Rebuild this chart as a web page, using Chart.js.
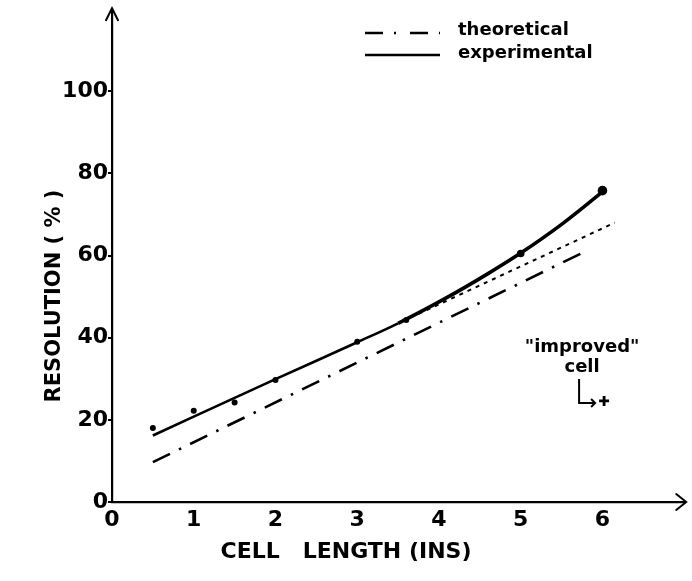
<!DOCTYPE html>
<html>
<head>
<meta charset="UTF-8">
<title>Resolution vs cell length</title>
<script src="https://cdn.jsdelivr.net/npm/chart.js"></script>
<style>
    html, body { margin: 0; padding: 0; background: #fff; }
    #wrap { width: 692px; height: 581px; }
</style>
</head>
<body>
<div id="wrap"><canvas id="chart" width="692" height="581"></canvas></div>
<script>
// tick labels
const xTicks = [0, 1, 2, 3, 4, 5, 6];
const yTicks = [0, 20, 40, 60, 80, 100];

// measured points (experimental)
const expPointsX = [0.5, 1, 1.5, 2, 3, 3.6, 5, 6];
const expPointsY = [18, 22.2, 24.2, 29.7, 39, 44.3, 60.5, 75.8];

// experimental curve as drawn
const expCurveX = [0.5, 2, 3, 3.5, 4.1, 4.6, 5, 5.5, 6];
const expCurveY = [16.2, 29.9, 38.9, 43.5, 49.8, 55.6, 60.6, 67.6, 75.5];

// theoretical line
const theoX = [0.5, 5.83];
const theoY = [9.7, 61.4];

// dotted extension of the straight part
const extrapX = [3.75, 6.15];
const extrapY = [45.8, 68];

// "improved" cell
const improvedX = [6.02];
const improvedY = [24.6];

const toXY = (xs, ys) => xs.map((x, i) => ({ x: x, y: ys[i] }));

Chart.defaults.font.family = "'DejaVu Sans', sans-serif";
Chart.defaults.color = '#000';

const decorations = {
    id: 'decorations',
    afterDraw(chart) {
        const ctx = chart.ctx;
        const a = chart.chartArea;
        const xs = chart.scales.x, ys = chart.scales.y;
        ctx.save();
        ctx.strokeStyle = '#000';
        ctx.fillStyle = '#000';
        ctx.lineWidth = 2;
        ctx.lineCap = 'round';

        // axis arrows
        ctx.beginPath();
        ctx.moveTo(a.left, a.top);
        ctx.lineTo(a.left, a.top - 5);
        ctx.moveTo(a.left - 6, a.top + 7);
        ctx.lineTo(a.left, a.top - 5);
        ctx.lineTo(a.left + 6, a.top + 7);
        ctx.stroke();
        ctx.beginPath();
        ctx.moveTo(a.right, a.bottom);
        ctx.lineTo(a.right + 2, a.bottom);
        ctx.moveTo(a.right - 8, a.bottom - 8);
        ctx.lineTo(a.right + 2, a.bottom);
        ctx.lineTo(a.right - 8, a.bottom + 8);
        ctx.stroke();

        // axis titles
        ctx.font = "bold 22px 'DejaVu Sans'";
        ctx.textAlign = 'center';
        ctx.textBaseline = 'middle';
        ctx.fillText('CELL   LENGTH (INS)', 346, 552);
        ctx.save();
        ctx.translate(55, 296);
        ctx.rotate(-Math.PI / 2);
        ctx.font = "bold 21px 'DejaVu Sans'";
        ctx.fillText('RESOLUTION ( % )', 0, 0);
        ctx.restore();

        // legend
        const theo = chart.data.datasets[2];
        const exp = chart.data.datasets[0];
        ctx.lineCap = 'butt';
        ctx.lineWidth = theo.borderWidth;
        ctx.setLineDash([18, 11, 2, 14]);
        ctx.beginPath();
        ctx.moveTo(365, 33);
        ctx.lineTo(440, 33);
        ctx.stroke();
        ctx.setLineDash([]);
        ctx.lineWidth = exp.borderWidth;
        ctx.beginPath();
        ctx.moveTo(365, 55);
        ctx.lineTo(440, 55);
        ctx.stroke();
        ctx.font = "bold 18px 'DejaVu Sans'";
        ctx.textAlign = 'left';
        ctx.fillText(theo.label, 458, 30);
        ctx.fillText(exp.label, 458, 53);

        // "improved" cell note with arrow to its point
        const px = xs.getPixelForValue(improvedX[0]);
        const py = ys.getPixelForValue(improvedY[0]);
        ctx.textAlign = 'center';
        ctx.font = "bold 18px 'DejaVu Sans'";
        ctx.fillText('"improved"', px - 22, py - 54);
        ctx.fillText('cell', px - 22, py - 34);
        ctx.lineWidth = 2;
        ctx.beginPath();
        ctx.moveTo(px - 25, py - 22);
        ctx.lineTo(px - 25, py + 2);
        ctx.lineTo(px - 9, py + 2);
        ctx.moveTo(px - 13, py - 2);
        ctx.lineTo(px - 9, py + 2);
        ctx.lineTo(px - 13, py + 6);
        ctx.stroke();
        ctx.restore();
    }
};

new Chart(document.getElementById('chart'), {
    type: 'line',
    data: {
        datasets: [
            {
                label: 'experimental',
                data: toXY(expCurveX, expCurveY),
                borderColor: '#000',
                borderWidth: 2.6,
                cubicInterpolationMode: 'monotone',
                segment: {
                    borderWidth: c => c.p0.parsed.x >= 3.5 ? 3.6 : 2.6
                },
                pointRadius: 0,
                fill: false
            },
            {
                label: 'extrapolation',
                data: toXY(extrapX, extrapY),
                borderColor: '#000',
                borderWidth: 2,
                borderDash: [4, 5],
                pointRadius: 0,
                fill: false
            },
            {
                label: 'theoretical',
                data: toXY(theoX, theoY),
                borderColor: '#000',
                borderWidth: 2.6,
                borderDash: [19, 10, 2.5, 10],
                pointRadius: 0,
                fill: false
            },
            {
                label: 'measured',
                data: toXY(expPointsX, expPointsY),
                showLine: false,
                pointRadius: [3, 3, 3, 3, 3, 3, 3.8, 4.8],
                pointBackgroundColor: '#000',
                pointBorderColor: '#000',
                pointBorderWidth: 0
            },
            {
                label: 'improved cell',
                data: toXY(improvedX, improvedY),
                showLine: false,
                pointStyle: 'cross',
                pointRadius: 5,
                pointBorderWidth: 2.8,
                pointBorderColor: '#000'
            }
        ]
    },
    options: {
        responsive: false,
        animation: false,
        devicePixelRatio: 1,
        layout: { padding: { left: 0, right: 6, top: 10, bottom: 0 } },
        plugins: {
            legend: { display: false },
            tooltip: { enabled: false }
        },
        scales: {
            x: {
                type: 'linear',
                min: 0,
                max: 7,
                afterFit: s => { s.height = 79; },
                afterBuildTicks: s => { s.ticks = xTicks.map(v => ({ value: v })); },
                grid: { drawOnChartArea: false, drawTicks: false },
                border: { color: '#000', width: 2.2 },
                ticks: { color: '#000', font: { size: 22, weight: 'bold' }, padding: 5 }
            },
            y: {
                min: 0,
                max: 119,
                afterFit: s => { s.width = 112; },
                afterBuildTicks: s => { s.ticks = yTicks.map(v => ({ value: v })); },
                grid: { drawOnChartArea: false, drawTicks: true, tickLength: 4, color: '#000', lineWidth: 2 },
                border: { color: '#000', width: 2.2 },
                ticks: { color: '#000', font: { size: 22, weight: 'bold' }, padding: 0 }
            }
        }
    },
    plugins: [decorations]
});
</script>
</body>
</html>
